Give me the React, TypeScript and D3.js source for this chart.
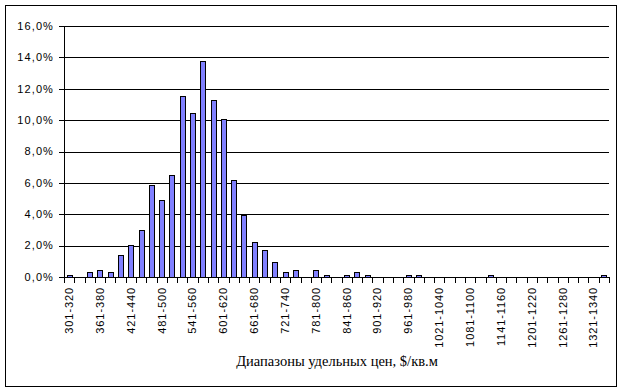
import React from "react";
import * as d3 from "d3";

const starts: number[] = d3.range(301, 1342, 20);
const categories: string[] = starts.map((s) => `${s}-${s + 19}`);
const values: number[] = [
  0.15, 0, 0.33, 0.47, 0.33, 1.43, 2.06, 3.02, 5.88, 4.93,
  6.52, 11.56, 10.44, 13.75, 11.27, 10.1, 6.2, 3.97, 2.25, 1.74,
  0.98, 0.33, 0.47, 0, 0.47, 0.15, 0, 0.15, 0.33, 0.15,
  0, 0, 0, 0.15, 0.15, 0, 0, 0, 0, 0,
  0, 0.15, 0, 0, 0, 0, 0, 0, 0, 0,
  0, 0, 0.15,
];
const yTicks: number[] = [0, 2, 4, 6, 8, 10, 12, 14, 16];
const xTitle = "Диапазоны удельных цен, $/кв.м";

const W = 624;
const H = 392;
const left = 64;
const right = 609;
const top = 26;
const bottom = 277;

export default function App() {
  const x = d3.scaleBand<string>().domain(categories).range([left, right]).paddingInner(0.5).paddingOuter(0.25);
  const xb = d3.scaleLinear().domain([0, categories.length]).range([left, right]);
  const y = d3.scaleLinear().domain([0, 16]).range([bottom, top]);
  const sans = "'Liberation Sans', Arial, sans-serif";
  const fmt = (v: number) => v.toFixed(1).replace(".", ",") + "%";
  const r = (v: number) => Math.round(v) + 0.5;

  return (
    <svg width={W} height={H} style={{ position: "absolute", left: 0, top: 0, background: "#fff" }}>
      <rect x={5.5} y={5.5} width={611} height={381} fill="#fff" stroke="#000" strokeWidth={1} />
      {yTicks.filter((t) => t > 0).map((t) => (
        <line key={"g" + t} x1={left} x2={right} y1={r(y(t))} y2={r(y(t))} stroke="#000" strokeWidth={1} />
      ))}
      {values.map((v, i) =>
        v > 0 ? (
          <rect
            key={"b" + i}
            x={Math.round(x(categories[i])!) + 0.5}
            y={Math.round(y(v)) + 0.5}
            width={Math.round(x.bandwidth())}
            height={Math.round(y(0)) - Math.round(y(v))}
            fill="#8080ff"
            stroke="#000"
            strokeWidth={1}
          />
        ) : null
      )}
      <line x1={r(left)} x2={r(left)} y1={top} y2={r(bottom)} stroke="#000" />
      <line x1={left} x2={right + 1} y1={r(bottom)} y2={r(bottom)} stroke="#000" />
      {yTicks.map((t) => (
        <g key={"yt" + t}>
          <line x1={left - 5} x2={left} y1={r(y(t))} y2={r(y(t))} stroke="#000" />
          <text x={54} y={y(t)} dy="0.35em" textAnchor="end" fontFamily={sans} fontSize={11} letterSpacing={1.1} fill="#000">
            {fmt(t)}
          </text>
        </g>
      ))}
      {d3.range(0, categories.length + 1).map((i) => (
        <line key={"xt" + i} x1={r(xb(i))} x2={r(xb(i))} y1={r(bottom)} y2={bottom + 6} stroke="#000" />
      ))}
      {categories.map((c, i) =>
        i % 3 === 0 ? (
          <text
            key={"xl" + i}
            transform={`translate(${x(c)! + x.bandwidth() / 2},287) rotate(-90)`}
            dy="0.35em"
            textAnchor="end"
            fontFamily={sans}
            fontSize={11}
            letterSpacing={0.9}
            fill="#000"
          >
            {c}
          </text>
        ) : null
      )}
      <text x={337} y={366} textAnchor="middle" fontFamily="'Liberation Serif', 'Times New Roman', serif" fontSize={14.5} fill="#000">
        {xTitle}
      </text>
    </svg>
  );
}
